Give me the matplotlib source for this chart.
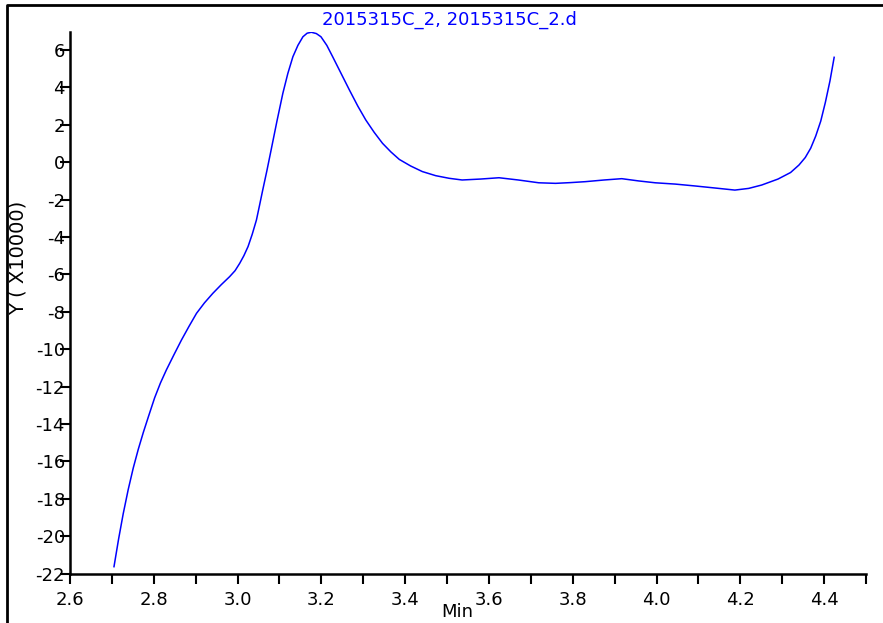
import matplotlib
matplotlib.use("Agg")
import matplotlib.pyplot as plt
from matplotlib.lines import Line2D
from matplotlib.ticker import MultipleLocator, FormatStrFormatter

plt.rcParams['font.family'] = ['DejaVu Sans']

# values (x in Min, y in units of 10000)
t = [2.705, 2.716, 2.727, 2.739, 2.751, 2.763, 2.775, 2.788, 2.802, 2.816,
     2.830, 2.848, 2.866, 2.884, 2.902, 2.921, 2.941, 2.961, 2.981, 2.994,
     3.005, 3.015, 3.025, 3.035, 3.045, 3.052, 3.060, 3.070, 3.080, 3.094,
     3.108, 3.120, 3.132, 3.144, 3.156, 3.166, 3.176, 3.188, 3.199, 3.213,
     3.227, 3.247, 3.267, 3.287, 3.306, 3.326, 3.346, 3.366, 3.386, 3.413,
     3.441, 3.473, 3.505, 3.536, 3.580, 3.624, 3.670, 3.719, 3.759, 3.795,
     3.830, 3.875, 3.917, 3.957, 3.997, 4.045, 4.092, 4.140, 4.187, 4.220,
     4.251, 4.290, 4.320, 4.340, 4.355, 4.368, 4.380, 4.392, 4.403, 4.414,
     4.424]
resp = [-21.63, -20.15, -18.80, -17.50, -16.35, -15.35, -14.45, -13.55, -12.60, -11.80,
        -11.11, -10.30, -9.51, -8.78, -8.08, -7.52, -7.01, -6.55, -6.12, -5.80,
        -5.41, -5.00, -4.51, -3.85, -3.09, -2.35, -1.49, -0.45, 0.65, 2.20,
        3.68, 4.75, 5.64, 6.25, 6.71, 6.90, 6.95, 6.88, 6.71, 6.25,
        5.64, 4.75, 3.86, 3.00, 2.26, 1.60, 1.01, 0.55, 0.15, -0.20,
        -0.50, -0.72, -0.86, -0.95, -0.90, -0.83, -0.95, -1.10, -1.13, -1.09,
        -1.04, -0.95, -0.88, -1.00, -1.10, -1.17, -1.27, -1.38, -1.49, -1.40,
        -1.22, -0.90, -0.55, -0.15, 0.25, 0.75, 1.40, 2.20, 3.20, 4.35,
        5.61]

title = "2015315C_2, 2015315C_2.d"
xlabel = "Min"
ylabel = "Y ( X10000)"

W, H = 883, 623
fig = plt.figure(figsize=(W / 100, H / 100), dpi=100)
ax = fig.add_axes([70 / W, 1 - 573.6 / H, 796 / W, (573.6 - 31.7) / H])

ax.plot(t, resp, color='#0000ff', lw=1.1)

ax.set_xlim(2.6, 4.5)
ax.set_ylim(-22, 6.98)
ax.xaxis.set_major_locator(MultipleLocator(0.2))
ax.xaxis.set_minor_locator(MultipleLocator(0.1))
ax.yaxis.set_major_locator(MultipleLocator(2))
ax.xaxis.set_major_formatter(FormatStrFormatter('%.1f'))
ax.yaxis.set_major_formatter(FormatStrFormatter('%d'))

for s in ['top', 'right']:
    ax.spines[s].set_visible(False)
for s in ['left', 'bottom']:
    ax.spines[s].set_linewidth(1.8)

ax.tick_params(axis='x', which='both', direction='out', length=7.2, width=1.5,
               labelsize=13, pad=5)
ax.tick_params(axis='y', which='major', direction='out', length=7.2, width=1.5,
               labelsize=13, pad=-3.6)

fig.text(449 / W, 1 - 20 / H, title, color='#0000ff', fontsize=13,
         ha='center', va='center')
fig.text(18 / W, 1 - 258 / H, ylabel, rotation=90, fontsize=14,
         ha='center', va='center')
fig.text(457 / W, 1 - 603 / H, xlabel, fontsize=13, ha='center', va='top')

# outer frame (left and top edges visible in the crop)
fig.add_artist(Line2D([7 / W, 7 / W, 1], [0, 1 - 5 / H, 1 - 5 / H],
                      transform=fig.transFigure, color='black', lw=2))

fig.savefig('out.png', dpi=100)
